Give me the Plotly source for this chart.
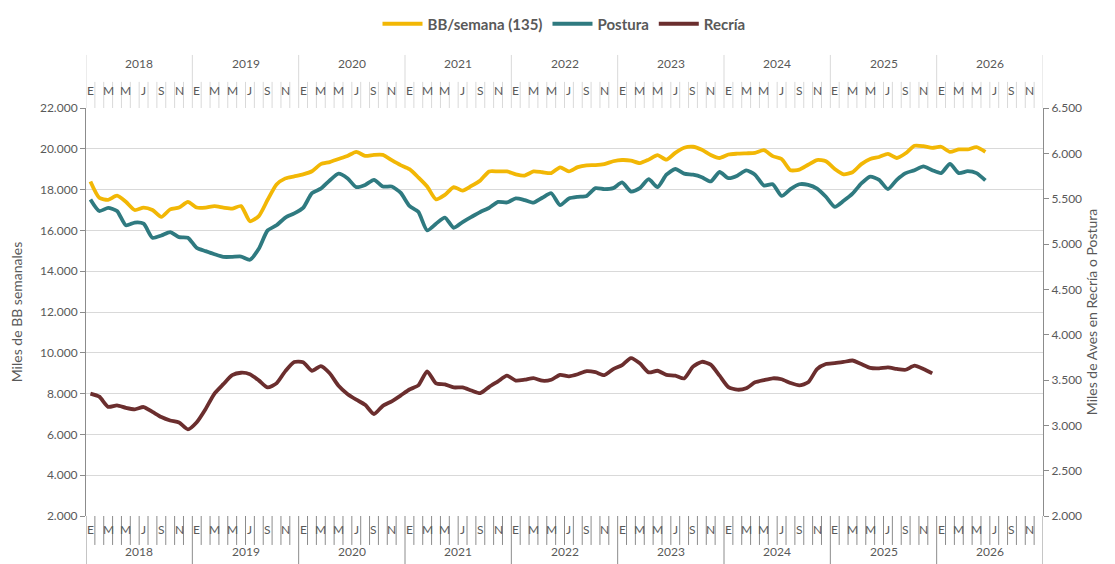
import plotly.graph_objects as go

years = ["2018", "2019", "2020", "2021", "2022", "2023", "2024", "2025", "2026"]
month_letters = ["E", "F", "M", "A", "M", "J", "J", "A", "S", "O", "N", "D"]

# BB/semana (left axis, miles), monthly from Jan 2018
bb = [18400, 17600, 17500, 17700, 17400, 17000, 17120, 17000, 16660, 17030, 17120, 17400,
      17120, 17120, 17190, 17120, 17070, 17190, 16450, 16700, 17500, 18250, 18550, 18650,
      18750, 18900, 19250, 19350, 19500, 19650, 19850, 19650, 19700, 19700, 19440, 19200,
      19000, 18600, 18150, 17520, 17740, 18120, 17950, 18180, 18450, 18890, 18890, 18890,
      18750, 18690, 18890, 18850, 18810, 19090, 18890, 19100, 19190, 19200, 19250, 19390,
      19450, 19420, 19300, 19470, 19690, 19470, 19800, 20050, 20100, 19950, 19700, 19550,
      19720, 19760, 19780, 19800, 19930, 19640, 19500, 18950, 18980, 19220, 19450, 19390,
      19010, 18750, 18850, 19250, 19500, 19600, 19750, 19550, 19780, 20150, 20130, 20050,
      20100, 19850, 19970, 19970, 20080, 19850]

# Postura (right axis, miles de aves)
postura = [5492, 5364, 5398, 5364, 5206, 5236, 5224, 5069, 5094, 5132, 5076, 5069,
           4957, 4921, 4887, 4858, 4858, 4862, 4826, 4948, 5150, 5206, 5292, 5337,
           5398, 5560, 5611, 5701, 5776, 5726, 5627, 5652, 5708, 5634, 5634, 5566,
           5420, 5355, 5150, 5224, 5292, 5179, 5242, 5299, 5353, 5398, 5465, 5458,
           5503, 5485, 5456, 5510, 5560, 5429, 5503, 5521, 5530, 5616, 5605, 5616,
           5679, 5578, 5616, 5715, 5627, 5764, 5827, 5776, 5764, 5737, 5690, 5794,
           5726, 5753, 5812, 5764, 5645, 5659, 5530, 5605, 5659, 5652, 5611, 5521,
           5409, 5476, 5555, 5668, 5744, 5708, 5605, 5708, 5782, 5814, 5857, 5814,
           5782, 5884, 5782, 5803, 5782, 5701]

# Recría (right axis, miles de aves)
recria = [3350, 3316, 3204, 3220, 3193, 3177, 3202, 3148, 3091, 3053, 3031, 2956,
          3035, 3181, 3350, 3454, 3553, 3580, 3564, 3496, 3418, 3463, 3598, 3699,
          3697, 3602, 3654, 3575, 3436, 3346, 3283, 3226, 3125, 3215, 3265, 3328,
          3395, 3440, 3595, 3463, 3451, 3418, 3418, 3384, 3355, 3424, 3485, 3548,
          3494, 3503, 3521, 3492, 3503, 3557, 3541, 3564, 3598, 3586, 3553, 3620,
          3665, 3742, 3685, 3584, 3602, 3557, 3548, 3517, 3647, 3701, 3670, 3548,
          3422, 3393, 3409, 3474, 3499, 3519, 3508, 3467, 3440, 3474, 3620, 3676,
          3685, 3699, 3715, 3676, 3634, 3629, 3640, 3622, 3613, 3658, 3622, 3573]

n_months = len(years) * 12
xs = lambda arr: [i + 0.5 for i in range(len(arr))]

YELLOW = "#F2B705"
TEAL = "#2F7A80"
MAROON = "#6B2E2E"
TXT = "#595959"
FONT = "Lato"

fig = go.Figure()
fig.add_trace(go.Scatter(x=xs(bb), y=bb, name="BB/semana (135)", mode="lines",
                         line=dict(color=YELLOW, width=3.8, shape="spline", smoothing=0.6)))
fig.add_trace(go.Scatter(x=xs(postura), y=postura, name="Postura", mode="lines", yaxis="y2",
                         line=dict(color=TEAL, width=3.8, shape="spline", smoothing=0.6)))
fig.add_trace(go.Scatter(x=xs(recria), y=recria, name="Recría", mode="lines", yaxis="y2",
                         line=dict(color=MAROON, width=3.8, shape="spline", smoothing=0.6)))

shapes = []
annotations = []
for k in range(n_months + 1):
    is_year = (k % 12 == 0)
    shapes.append(dict(type="line", xref="x", yref="paper", x0=k, x1=k,
                       y0=1.0, y1=1.13 if is_year else 1.064,
                       line=dict(color="#D9D9D9", width=1)))
    shapes.append(dict(type="line", xref="x", yref="paper", x0=k, x1=k,
                       y0=0.0, y1=-0.14 if is_year else -0.071,
                       line=dict(color="#8C8C8C", width=1)))
for k in range(n_months):
    if k % 2 == 0:
        letter = month_letters[k % 12]
        for yy in (1.042, -0.034):
            annotations.append(dict(x=k + 0.5, y=yy, xref="x", yref="paper", text=letter,
                                    showarrow=False, font=dict(family=FONT, size=12, color=TXT),
                                    xanchor="center", yanchor="middle"))
for i, yr in enumerate(years):
    for yy in (1.108, -0.088):
        annotations.append(dict(x=i * 12 + 6, y=yy, xref="x", yref="paper", text=yr,
                                showarrow=False, font=dict(family=FONT, size=12, color=TXT),
                                xanchor="center", yanchor="middle"))

fig.update_layout(
    width=1115, height=564,
    margin=dict(l=78, r=80, t=100, b=56, autoexpand=False),
    paper_bgcolor="white", plot_bgcolor="white",
    separators=",.",
    font=dict(family=FONT, color=TXT, size=12),
    showlegend=True,
    legend=dict(orientation="h", x=556 / 1115, xanchor="center", xref="container",
                y=1 - 16 / 564, yanchor="middle", yref="container",
                font=dict(family=FONT, size=15, color=TXT, weight="bold"),
                itemwidth=40, bgcolor="rgba(0,0,0,0)"),
    xaxis=dict(range=[0, n_months], showticklabels=False, showgrid=False, zeroline=False,
               showline=False, ticks="", fixedrange=True, automargin=False),
    yaxis=dict(range=[2000, 22000], dtick=2000, tickformat=",d", showgrid=True,
               gridcolor="#D9D9D9", gridwidth=1, zeroline=False, showline=True,
               linecolor="#8C8C8C", ticks="outside", ticklen=5, tickcolor="#8C8C8C",
               automargin=False,
               tickfont=dict(family=FONT, size=12, color=TXT),
               title=dict(text="Miles de BB semanales", standoff=16,
                          font=dict(family=FONT, size=14, color=TXT))),
    yaxis2=dict(range=[2000, 6500], dtick=500, tickformat=",d", overlaying="y", side="right",
                showgrid=False, zeroline=False, showline=True, linecolor="#8C8C8C",
                ticks="outside", ticklen=5, tickcolor="#8C8C8C", automargin=False,
                tickfont=dict(family=FONT, size=12, color=TXT),
                title=dict(text="Miles de Aves en Recría o Postura", standoff=6,
                           font=dict(family=FONT, size=14, color=TXT))),
    shapes=shapes,
    annotations=annotations,
)

fig.write_html("out.html")
